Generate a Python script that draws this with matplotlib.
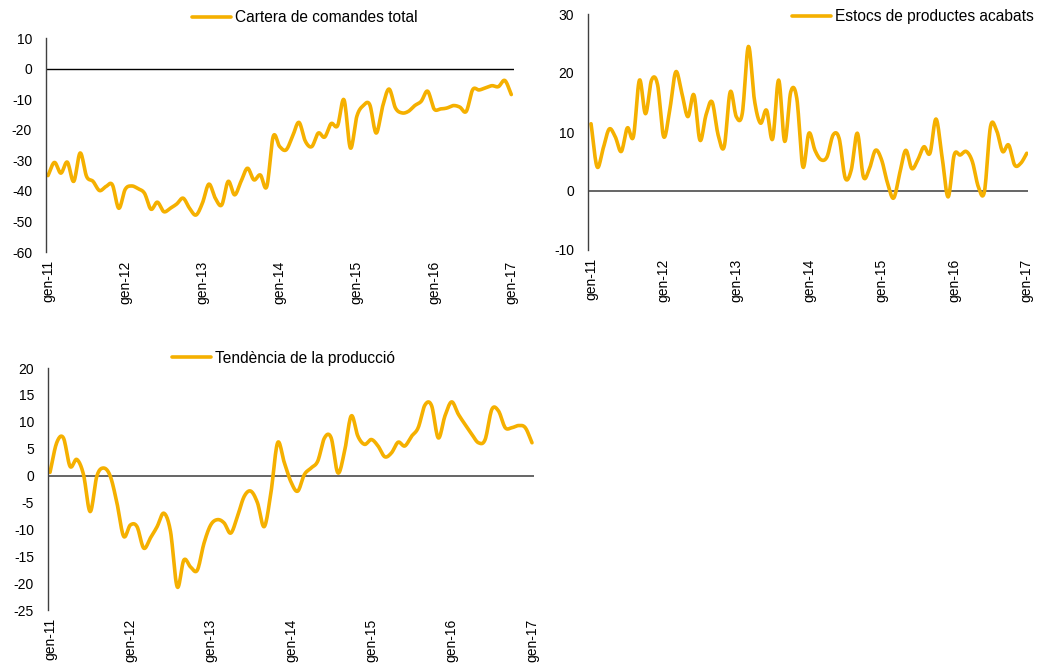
import numpy as np
import matplotlib
matplotlib.use("Agg")
import matplotlib.pyplot as plt

plt.rcParams['font.family'] = ['Liberation Sans', 'DejaVu Sans']

# ---- data (monthly, gen-11 .. gen-17) ----
tick_labels = ["gen-11", "gen-12", "gen-13", "gen-14", "gen-15", "gen-16", "gen-17"]

cartera = [-35, -30.7, -34.2, -30.6, -36.9, -27.6, -35.3, -36.9, -39.9, -38.6, -38, -45.7,
           -39.5, -38.4, -39.3, -40.8, -46, -43.7, -46.8, -45.7, -44.3, -42.4, -45.7, -47.9,
           -44, -37.8, -42.4, -44.6, -36.9, -41.3, -36.9, -32.6, -36.4, -34.8, -38.6, -22.2,
           -25.5, -26.6, -22.2, -17.6, -23.8, -25.5, -21.1, -22.4, -18, -18.7, -10.2, -26,
           -15.6, -12.1, -11.8, -21.1, -12.4, -6.7, -12.9, -14.5, -14, -12.1, -10.7, -7.4,
           -13.2, -13.2, -12.9, -12.1, -12.6, -14, -6.9, -7, -6.3, -5.6, -5.9, -3.9, -8.5]

estocs = [11.4, 4.1, 7.2, 10.5, 9.2, 6.7, 10.7, 9.2, 18.8, 13.1, 18.8, 18.0,
          9.2, 13.7, 20.2, 16.6, 12.6, 16.3, 8.6, 12.9, 15.1, 9.5, 7.5, 16.8,
          12.6, 13.2, 24.5, 15.4, 11.5, 13.7, 8.8, 18.8, 8.4, 16.8, 15.7, 4.1,
          9.8, 6.9, 5.3, 5.8, 9.5, 8.9, 2.2, 3.6, 9.8, 2.4, 3.8, 6.9,
          5.3, 1.3, -1.2, 3.0, 6.9, 3.8, 5.3, 7.5, 6.4, 12.2, 5.8, -1.0,
          6.1, 6.1, 6.7, 5.0, 0.7, -0.1, 10.9, 10.3, 6.7, 7.8, 4.4, 4.7, 6.4]

tendencia = [0.6, 6.1, 7.0, 1.7, 3.0, 0.2, -6.7, -0.1, 1.4, -0.1, -5.1, -11.3,
             -9.2, -9.5, -13.5, -11.6, -9.5, -7.0, -10.4, -20.7, -15.7, -17.0, -17.6, -12.6,
             -9.2, -8.2, -8.8, -10.7, -7.6, -3.9, -2.9, -5.1, -9.5, -3.2, 6.1, 2.4,
             -1.2, -2.9, 0.2, 1.4, 2.7, 7.0, 7.0, 0.5, 4.5, 11.1, 7.3, 5.8,
             6.7, 5.5, 3.5, 4.2, 6.2, 5.5, 7.3, 8.9, 13.1, 13.0, 7.0, 11.1,
             13.7, 11.4, 9.5, 7.7, 6.1, 6.7, 12.3, 12.0, 8.9, 8.9, 9.3, 8.9, 6.1]

names = ["Cartera de comandes total", "Estocs de productes acabats", "Tendència de la producció"]

LINE_COLOR = "#F5B000"
W, H = 1038, 667


def smooth(y, n=12):
    """Catmull-Rom spline through the points (Excel-like smoothed line)."""
    y = np.asarray(y, float)
    x = np.arange(len(y), dtype=float)
    P = np.concatenate([[2 * y[0] - y[1]], y, [2 * y[-1] - y[-2]]])
    X = np.concatenate([[x[0] - 1], x, [x[-1] + 1]])
    xs, ys = [], []
    t = np.linspace(0, 1, n, endpoint=False)
    for i in range(1, len(P) - 2):
        p0, p1, p2, p3 = P[i - 1], P[i], P[i + 1], P[i + 2]
        q0, q1, q2, q3 = X[i - 1], X[i], X[i + 1], X[i + 2]
        f = lambda a0, a1, a2, a3: 0.5 * ((2 * a1) + (-a0 + a2) * t +
                                         (2 * a0 - 5 * a1 + 4 * a2 - a3) * t ** 2 +
                                         (-a0 + 3 * a1 - 3 * a2 + a3) * t ** 3)
        xs.append(f(q0, q1, q2, q3))
        ys.append(f(p0, p1, p2, p3))
    xs.append([x[-1]])
    ys.append([y[-1]])
    return np.concatenate(xs), np.concatenate(ys)


fig = plt.figure(figsize=(W / 100, H / 100), dpi=100)


def px_axes(left, right, top, bottom):
    return fig.add_axes([left / W, 1 - bottom / H, (right - left) / W, (bottom - top) / H])


panels = [
    dict(data=cartera, box=(46, 514, 38, 252), xlim=(-0.31, 72.42), ylim=(-60, 10),
         yticks=np.arange(-60, 11, 10), zcolor="#000000", zlw=1.0,
         leg=(192, 18)),
    dict(data=estocs, box=(588, 1028, 14, 250), xlim=(-0.5, 72.2), ylim=(-10, 30),
         yticks=np.arange(-10, 31, 10), zcolor="#595959", zlw=1.3,
         leg=(792, 17)),
    dict(data=tendencia, box=(48, 534, 368, 610), xlim=(-0.3, 72.3), ylim=(-25, 20),
         yticks=np.arange(-25, 21, 5), zcolor="#595959", zlw=1.3,
         leg=(172, 358)),
]

for p, name in zip(panels, names):
    ax = px_axes(*p["box"])
    sx, sy = smooth(p["data"])
    line, = ax.plot(sx, sy, color=LINE_COLOR, lw=2.6, solid_capstyle="round",
                    solid_joinstyle="round", label=name)
    ax.axhline(0, color=p["zcolor"], lw=p["zlw"], zorder=1)
    ax.set_xlim(*p["xlim"])
    ax.set_ylim(*p["ylim"])
    ax.set_yticks(p["yticks"])
    ax.set_yticklabels([f"{v:g}" for v in p["yticks"]])
    ax.set_xticks(np.arange(0, 73, 12))
    ax.set_xticklabels(tick_labels, rotation=90, va="top", ha="center")
    for s in ["top", "right", "bottom"]:
        ax.spines[s].set_visible(False)
    ax.spines["left"].set_color("#404040")
    ax.spines["left"].set_linewidth(1.0)
    ax.tick_params(axis="both", length=0, labelsize=10, colors="#000000")
    ax.tick_params(axis="y", pad=10)
    ax.tick_params(axis="x", pad=6)
    lx, ly = p["leg"]
    fig.legend(handles=[line], labels=[name], loc="center left",
               bbox_to_anchor=(lx / W, 1 - ly / H), frameon=False,
               borderpad=0, borderaxespad=0, handlelength=2.5, handletextpad=0.25,
               fontsize=11.2)

fig.savefig("out.png", dpi=100)
